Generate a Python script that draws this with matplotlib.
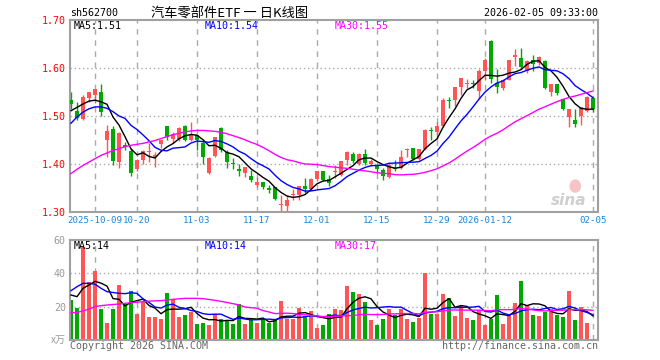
import numpy as np
import matplotlib
matplotlib.use('Agg')
import matplotlib.pyplot as plt
from matplotlib.patches import Ellipse

plt.rcParams['font.family'] = ['DejaVu Sans Mono']

W, H = 660, 360

# daily bars 2025-09-25 .. 2026-02-05 (88 sessions)
opens = [1.533, 1.511, 1.494, 1.538, 1.544, 1.549, 1.449, 1.473, 1.405, 1.439,
         1.427, 1.389, 1.408, 1.424, 1.414, 1.442, 1.479, 1.452, 1.452, 1.479,
         1.450, 1.460, 1.444, 1.381, 1.416, 1.476, 1.426, 1.402, 1.389, 1.382,
         1.374, 1.356, 1.362, 1.349, 1.352, 1.314, 1.313, 1.335, 1.335, 1.354,
         1.347, 1.368, 1.385, 1.369, 1.383, 1.377, 1.409, 1.421, 1.401, 1.421,
         1.400, 1.396, 1.388, 1.372, 1.391, 1.391, 1.429, 1.433, 1.411, 1.431,
         1.471, 1.467, 1.479, 1.534, 1.534, 1.561, 1.567, 1.568, 1.553, 1.594,
         1.657, 1.569, 1.558, 1.576, 1.622, 1.621, 1.593, 1.617, 1.610, 1.614,
         1.551, 1.567, 1.535, 1.497, 1.492, 1.501, 1.510, 1.538]
highs = [1.549, 1.530, 1.544, 1.551, 1.556, 1.567, 1.481, 1.479, 1.467, 1.445,
         1.433, 1.410, 1.429, 1.443, 1.424, 1.450, 1.479, 1.467, 1.478, 1.481,
         1.488, 1.461, 1.450, 1.414, 1.457, 1.478, 1.429, 1.413, 1.399, 1.394,
         1.387, 1.372, 1.363, 1.357, 1.352, 1.335, 1.335, 1.347, 1.355, 1.370,
         1.370, 1.385, 1.385, 1.377, 1.397, 1.406, 1.427, 1.426, 1.422, 1.431,
         1.411, 1.400, 1.391, 1.402, 1.409, 1.429, 1.433, 1.433, 1.431, 1.472,
         1.477, 1.488, 1.537, 1.540, 1.561, 1.579, 1.577, 1.576, 1.597, 1.621,
         1.659, 1.597, 1.577, 1.617, 1.640, 1.642, 1.617, 1.628, 1.624, 1.616,
         1.567, 1.567, 1.535, 1.515, 1.515, 1.518, 1.541, 1.538]
lows = [1.514, 1.492, 1.492, 1.530, 1.528, 1.499, 1.415, 1.398, 1.391, 1.430,
        1.374, 1.386, 1.400, 1.405, 1.393, 1.433, 1.449, 1.443, 1.447, 1.447,
        1.447, 1.430, 1.400, 1.379, 1.415, 1.424, 1.392, 1.390, 1.376, 1.373,
        1.362, 1.353, 1.347, 1.340, 1.325, 1.302, 1.302, 1.326, 1.326, 1.340,
        1.345, 1.364, 1.364, 1.355, 1.371, 1.375, 1.397, 1.402, 1.398, 1.398,
        1.395, 1.381, 1.366, 1.370, 1.385, 1.390, 1.415, 1.408, 1.408, 1.430,
        1.449, 1.452, 1.477, 1.516, 1.520, 1.544, 1.558, 1.558, 1.535, 1.576,
        1.569, 1.548, 1.555, 1.575, 1.605, 1.597, 1.590, 1.593, 1.607, 1.556,
        1.541, 1.544, 1.513, 1.478, 1.478, 1.482, 1.508, 1.508]
closes = [1.526, 1.495, 1.539, 1.549, 1.556, 1.509, 1.469, 1.406, 1.465, 1.436,
          1.381, 1.408, 1.427, 1.427, 1.419, 1.449, 1.456, 1.462, 1.476, 1.451,
          1.462, 1.449, 1.415, 1.413, 1.456, 1.430, 1.405, 1.399, 1.385, 1.393,
          1.367, 1.363, 1.352, 1.346, 1.327, 1.316, 1.325, 1.338, 1.354, 1.348,
          1.369, 1.385, 1.367, 1.360, 1.385, 1.406, 1.426, 1.406, 1.421, 1.403,
          1.406, 1.389, 1.375, 1.398, 1.389, 1.414, 1.432, 1.411, 1.431, 1.471,
          1.469, 1.479, 1.533, 1.532, 1.561, 1.579, 1.568, 1.566, 1.594, 1.617,
          1.578, 1.560, 1.576, 1.616, 1.628, 1.603, 1.615, 1.608, 1.622, 1.558,
          1.567, 1.548, 1.515, 1.515, 1.483, 1.518, 1.540, 1.515]
volume = [24, 19.4, 56, 35, 41.6, 18.6, 10.4, 18.6, 33, 21.6,
          29.4, 15.6, 23, 13.8, 13.8, 12.6, 28, 24.4, 13.8, 15,
          17, 9.6, 10.2, 9, 15.4, 12.6, 11.6, 9.6, 21.4, 9.6,
          12, 10.2, 12.6, 10.2, 12.6, 23.4, 12.6, 12.6, 19.2, 14.4,
          17.4, 7.2, 9, 15.6, 18.6, 18, 32.4, 28.8, 27.6, 22.8,
          12, 9, 12.6, 18.6, 15, 18.6, 12.6, 10.8, 13.2, 40.2,
          15.6, 15.6, 27.6, 25.2, 14.4, 20.4, 13.2, 12, 18, 9,
          12.6, 27, 9.6, 15, 22.2, 35.4, 21, 15, 14.4, 16.8,
          18.6, 15, 13.8, 29.6, 12, 19.8, 10.2, 0.6]

# MA values at the left edge, where the averaging window reaches off-chart
ma5_head = [1.511, 1.518, 1.525, 1.531]
ma10_head = [1.485, 1.498, 1.508, 1.515, 1.519, 1.519, 1.516, 1.509, 1.500]
ma30_head = [1.380, 1.389, 1.397, 1.404, 1.411, 1.418, 1.423, 1.428, 1.432, 1.436,
             1.439, 1.441, 1.443, 1.446, 1.449, 1.453, 1.457, 1.461, 1.464, 1.467,
             1.469, 1.470, 1.470, 1.469, 1.468, 1.466, 1.463, 1.459, 1.455]
vma5_head = [27, 26, 31, 33]
vma10_head = [29.6, 32, 34, 34, 33.5, 31, 29, 28.5, 28]
vma30_head = [16.4, 16.5, 17.5, 18.5, 20, 20.6, 21, 21.3, 21.6, 22,
              22.4, 22.7, 23, 23.3, 23.5, 23.6, 24, 24.4, 24.7, 25,
              25, 25, 24.8, 24.3, 23.8, 23.2, 22.5, 21.8, 21]

tick_idx = [4, 11, 21, 31, 41, 51, 61, 69, 87]
tick_lab = ['2025-10-09', '10-20', '11-03', '11-17', '12-01', '12-15',
            '12-29', '2026-01-12', '02-05']

RED = '#ff5555'
GREEN = '#00a800'
GRID = '#aaaaaa'
FRAME = '#a0a0a0'


def ma(series, n, head):
    s = np.asarray(series, float)
    out = np.empty(len(s))
    out[:len(head)] = head
    for i in range(len(head), len(s)):
        out[i] = s[max(0, i - n + 1):i + 1].mean()
    return out


def box(l, t, r, b):
    return [l / W, 1 - b / H, (r - l) / W, (b - t) / H]


o = np.array(opens); c = np.array(closes)
hi = np.array(highs); lo = np.array(lows)
vol = np.array(volume)
x = np.arange(len(o))
cols = [RED if cc >= oo else GREEN for oo, cc in zip(o, c)]
xlim = (-0.17, 87.83)

fig = plt.figure(figsize=(W / 100, H / 100), dpi=100)
fig.patch.set_facecolor('white')

# ---------------- price panel ----------------
ax = fig.add_axes(box(70, 20, 598, 212))
for xi in tick_idx:
    ax.axvline(xi, color=GRID, lw=1, ls=(0, (4, 4)), zorder=0)
for yv in [1.4, 1.5, 1.6]:
    ax.axhline(yv, color=GRID, lw=1, ls=(0, (1, 2)), zorder=0)
ax.vlines(x, lo, hi, colors=cols, lw=1, zorder=2)
ax.bar(x, np.maximum(np.abs(c - o), 0.0012), bottom=np.minimum(o, c),
       width=0.78, color=cols, linewidth=0, zorder=3)
ax.plot(x, ma(c, 5, ma5_head), color='black', lw=1, zorder=4)
ax.plot(x, ma(c, 10, ma10_head), color='#0000ff', lw=1, zorder=4)
ax.plot(x, ma(c, 30, ma30_head), color='#ff00ff', lw=1, zorder=4)
ax.set_xlim(*xlim)
ax.set_ylim(1.30, 1.70)
ax.set_yticks([1.3, 1.4, 1.5, 1.6, 1.7])
ax.set_yticklabels(['1.30', '1.40', '1.50', '1.60', '1.70'])
ax.set_xticks(tick_idx)
ax.set_xticklabels(tick_lab)
ax.tick_params(axis='y', length=0, pad=3, labelcolor='#ff0000', labelsize=7.2)
ax.tick_params(axis='x', length=0, pad=3, labelcolor='#1c86d9', labelsize=6.6)
for sp in ax.spines.values():
    sp.set_color(FRAME)
    sp.set_linewidth(1.5)

# sina watermark
ax.add_patch(Ellipse((0.957, 0.135), 0.022, 0.07, transform=ax.transAxes,
                     facecolor='#f6c4c4', edgecolor='none', zorder=1))
ax.text(0.945, 0.06, 'sina', transform=ax.transAxes, ha='center', va='center',
        fontsize=11, fontstyle='italic', fontweight='bold', color='#cfcfcf',
        family='DejaVu Sans', zorder=1)

# ---------------- volume panel ----------------
av = fig.add_axes(box(70, 240, 598, 340))
for xi in tick_idx:
    av.axvline(xi, color=GRID, lw=1, ls=(0, (4, 4)), zorder=0)
for yv in [20, 40]:
    av.axhline(yv, color=GRID, lw=1, ls=(0, (1, 2)), zorder=0)
av.bar(x, vol, width=0.8, color=cols, linewidth=0, zorder=2)
av.plot(x, ma(vol, 5, vma5_head), color='black', lw=1, zorder=3)
av.plot(x, ma(vol, 10, vma10_head), color='#0000ff', lw=1, zorder=3)
av.plot(x, ma(vol, 30, vma30_head), color='#ff00ff', lw=1, zorder=3)
av.set_xlim(*xlim)
av.set_ylim(0, 60)
av.set_yticks([20, 40, 60])
av.set_yticklabels(['20', '40', '60'])
av.set_xticks([])
av.tick_params(axis='y', length=0, pad=3, labelcolor='#999999', labelsize=7.2)
for sp in av.spines.values():
    sp.set_color(FRAME)
    sp.set_linewidth(1.5)

# ---------------- texts ----------------
fs = 7.2
fig.text(70 / W, 1 - 13 / H, 'sh562700', fontsize=fs, va='center', ha='left')
fig.text(230 / W, 1 - 13 / H, '汽车零部件ETF 一 日K线图', fontsize=9.5,
         va='center', ha='center', family=['Noto Sans CJK SC', 'DejaVu Sans'])
fig.text(598 / W, 1 - 13 / H, '2026-02-05 09:33:00', fontsize=fs,
         va='center', ha='right')

fig.text(74 / W, 1 - 26 / H, 'MA5:1.51', fontsize=fs, va='center', color='black')
fig.text(205 / W, 1 - 26 / H, 'MA10:1.54', fontsize=fs, va='center', color='#0000ff')
fig.text(335 / W, 1 - 26 / H, 'MA30:1.55', fontsize=fs, va='center', color='#ff00ff')

fig.text(74 / W, 1 - 246 / H, 'MA5:14', fontsize=fs, va='center', color='black')
fig.text(205 / W, 1 - 246 / H, 'MA10:14', fontsize=fs, va='center', color='#0000ff')
fig.text(335 / W, 1 - 246 / H, 'MA30:17', fontsize=fs, va='center', color='#ff00ff')

fig.text(66 / W, 1 - 340 / H, 'x万', fontsize=fs, va='center', ha='right',
         color='#999999', family=['Noto Sans CJK SC', 'DejaVu Sans'])
fig.text(70 / W, 1 - 346 / H, 'Copyright 2026 SINA.COM', fontsize=fs,
         va='center', ha='left', color='#666666')
fig.text(598 / W, 1 - 346 / H, 'http://finance.sina.com.cn', fontsize=fs,
         va='center', ha='right', color='#666666')

fig.savefig('out.png', dpi=100)
